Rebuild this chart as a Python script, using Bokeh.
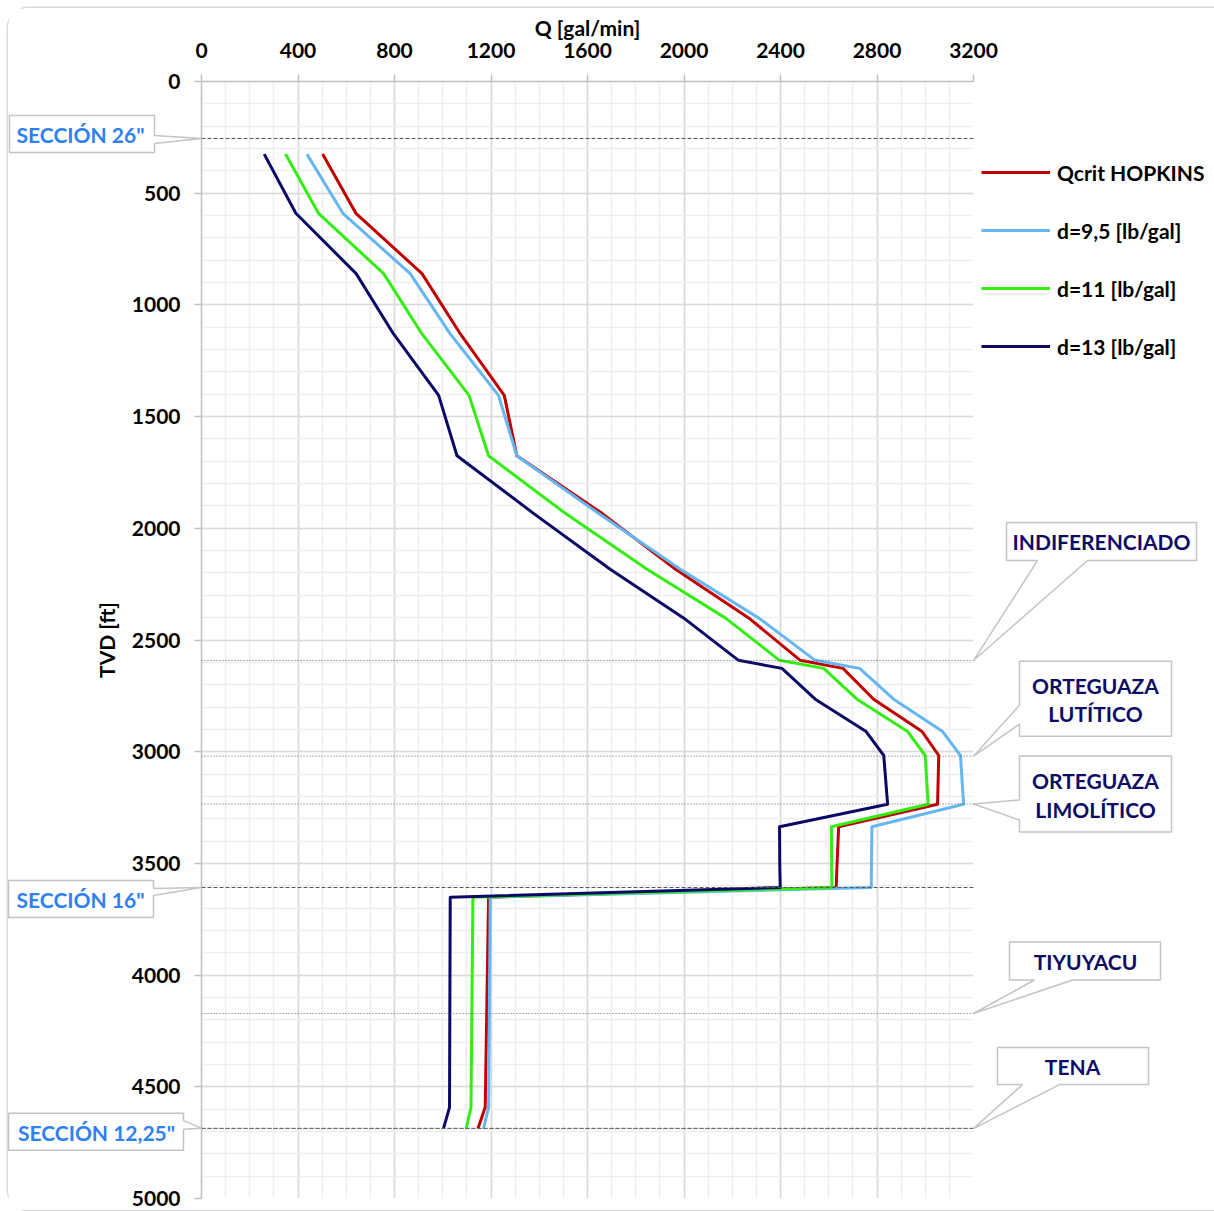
from bokeh.plotting import figure
from bokeh.models import Range1d, FixedTicker, Span, Legend, LegendItem
from bokeh.core.properties import value
from bokeh.embed import file_html
from bokeh.resources import INLINE

# ---------------- data ----------------
depth_ft = [325, 590, 860, 1130, 1405, 1675, 1933, 2183, 2401, 2591, 2627, 2765,
            2910, 3017, 3235, 3336, 3514, 3608, 3651, 4592, 4687]
q_hopkins = [502, 640, 914, 1073, 1255, 1307, 1660, 1965, 2268, 2482, 2659, 2786,
             2987, 3056, 3051, 2641, 2634, 2631, 1190, 1176, 1146]
q_d95 = [437, 586, 865, 1031, 1231, 1307, 1645, 1985, 2309, 2544, 2728, 2869,
         3072, 3146, 3159, 2779, 2777, 2776, 1197, 1190, 1169]
q_d11 = [348, 485, 755, 914, 1109, 1190, 1508, 1847, 2171, 2396, 2579, 2717,
         2927, 3000, 3012, 2611, 2612, 2613, 1125, 1117, 1097]
q_d13 = [260, 391, 641, 796, 983, 1059, 1376, 1694, 1998, 2226, 2406, 2544,
         2755, 2828, 2844, 2396, 2397, 2399, 1031, 1028, 1003]
series_names = ["Qcrit HOPKINS", "d=9,5 [lb/gal]", "d=11 [lb/gal]", "d=13 [lb/gal]"]

section_depths = [255, 3608, 4686]
section_labels = ['SECCIÓN 26"', 'SECCIÓN 16"', 'SECCIÓN 12,25"']
formation_depths = [2592, 3020, 3234, 4172, 4687]
formation_labels = [["INDIFERENCIADO"], ["ORTEGUAZA", "LUTÍTICO"],
                    ["ORTEGUAZA", "LIMOLÍTICO"], ["TIYUYACU"], ["TENA"]]

x_ticks = [0, 400, 800, 1200, 1600, 2000, 2400, 2800, 3200]
y_ticks = [0, 500, 1000, 1500, 2000, 2500, 3000, 3500, 4000, 4500, 5000]

# ---------------- styles ----------------
series_colors = ["#C00000", "#66B6F2", "#33EE11", "#0A0A66"]
FONT = "Lato"
SEC_COLOR = "#2F80F0"
FORM_COLOR = "#0C0C66"

OFF = 8                      # css offset of the figure on the page
W, H = 1204, 1202
FL, FT, FW, FH = 193, 73, 772, 1117
X0, X1, Y0, Y1 = 0, 3200, 0, 5000

p = figure(frame_width=FW, frame_height=FH, min_border_left=FL, min_border_top=FT,
           min_border_right=W - FL - FW, min_border_bottom=H - FT - FH,
           x_range=Range1d(X0, X1), y_range=Range1d(Y1, Y0),
           x_axis_location="above", output_backend="svg", toolbar_location=None,
           background_fill_color="white", border_fill_color="white",
           outline_line_color=None)
p.styles = {"margin": "8px 0 0 8px", "box-shadow": "0 0 0 1.5px #d9d9d9",
            "border-radius": "20px"}

xa = p.xaxis[0]
xa.ticker = FixedTicker(ticks=x_ticks, minor_ticks=list(range(0, 3201, 100)))
ya = p.yaxis[0]
ya.ticker = FixedTicker(ticks=y_ticks, minor_ticks=list(range(0, 5001, 100)))
xa.axis_label = "Q [gal/min]"
ya.axis_label = "TVD [ft]"
for ax in (xa, ya):
    ax.axis_label_text_font = FONT
    ax.axis_label_text_font_style = "bold"
    ax.axis_label_text_font_size = "21px"
    ax.axis_label_text_color = "black"
    ax.major_label_text_font = FONT
    ax.major_label_text_font_style = "bold"
    ax.major_label_text_font_size = "21px"
    ax.major_label_text_color = "black"
    ax.axis_line_color = "#bfbfbf"
    ax.axis_line_width = 1.5
    ax.major_tick_line_color = "#bfbfbf"
    ax.major_tick_line_width = 1.5
    ax.major_tick_out = 7
    ax.major_tick_in = 0
    ax.minor_tick_out = 0
    ax.minor_tick_in = 0
xa.major_label_standoff = 17
xa.axis_label_standoff = 0
ya.major_label_standoff = 14
ya.axis_label_standoff = 10

for g in (p.xgrid[0], p.ygrid[0]):
    g.grid_line_color = "#d9d9d9"
    g.grid_line_width = 1.6
    g.minor_grid_line_color = "#efefef"
    g.minor_grid_line_width = 1.5

# horizontal reference lines
for d in section_depths:
    p.add_layout(Span(location=d, dimension="width", line_color="#555555",
                      line_width=1, line_dash="4 2"))
for d in formation_depths:
    p.add_layout(Span(location=d, dimension="width", line_color="#606060",
                      line_width=1, line_dash="1 2"))

# series
renderers = []
for q, c in zip([q_hopkins, q_d95, q_d11, q_d13], series_colors):
    r = p.line(q, depth_ft, line_color=c, line_width=3, line_join="round")
    renderers.append(r)

# ---------------- callouts (decoration, placed from page pixels) ----------
SX = FW / (X1 - X0)
SY = FH / (Y1 - Y0)
FRAME_LEFT = OFF + FL


def qx(page_x):
    return X0 + (page_x - FRAME_LEFT) / SX


def dy(px):
    return px / SY


def callout(tip_depth, pts, texts, color):
    xs = [qx(x) for x, _ in pts]
    ys = [tip_depth + dy(o) for _, o in pts]
    p.patch(xs, ys, fill_color="white", fill_alpha=1.0, line_color="#c4c4c4",
            line_width=1.5, level="overlay")
    p.text(x=[qx(tx) for tx, _, _ in texts],
           y=[tip_depth + dy(to) for _, to, _ in texts],
           text=[t for _, _, t in texts], text_align="center",
           text_baseline="middle", text_font=value(FONT),
           text_font_style="bold", text_font_size="21px", text_color=color,
           level="overlay")


# section callouts (left)
callout(section_depths[0],
        [(9, -23), (154, -23), (154, -3), (201, 0), (154, 5), (154, 14), (9, 14)],
        [(80, -4, section_labels[0])], SEC_COLOR)
callout(section_depths[1],
        [(8, -7), (153, -7), (153, 1), (201, 0), (153, 8), (153, 30), (8, 30)],
        [(80, 12, section_labels[1])], SEC_COLOR)
callout(section_depths[2],
        [(8, -15), (183, -15), (183, -8), (201, 0), (183, 1), (183, 22), (8, 22)],
        [(96, 4, section_labels[2])], SEC_COLOR)

# formation callouts (right)
callout(formation_depths[0],
        [(1006, -138), (1196, -138), (1196, -100), (1087, -100), (973, 0),
         (1037, -100), (1006, -100)],
        [(1101, -119, formation_labels[0][0])], FORM_COLOR)
callout(formation_depths[1],
        [(1019, -95), (1171, -95), (1171, -20), (1019, -20), (1019, -32),
         (973, 0), (1019, -51)],
        [(1095, -71, formation_labels[1][0]), (1095, -43, formation_labels[1][1])],
        FORM_COLOR)
callout(formation_depths[2],
        [(1019, -48), (1171, -48), (1171, 28), (1019, 28), (1019, 16),
         (973, 0), (1019, -4)],
        [(1095, -23, formation_labels[2][0]), (1095, 6, formation_labels[2][1])],
        FORM_COLOR)
callout(formation_depths[3],
        [(1009, -71.5), (1160, -71.5), (1160, -33.5), (1072, -33.5), (973, 0),
         (1034, -33.5), (1009, -33.5)],
        [(1085, -52, formation_labels[3][0])], FORM_COLOR)
callout(formation_depths[4],
        [(997, -81), (1148, -81), (1148, -44), (1059, -44), (973, 0),
         (1022, -44), (997, -44)],
        [(1072, -62, formation_labels[4][0])], FORM_COLOR)

# legend (right side panel)
items = [LegendItem(label=n, renderers=[r]) for n, r in zip(series_names, renderers)]
leg_top = 159 - OFF - FT          # from frame top, px
leg_h = 4 * 26 + 3 * 32
legend = Legend(items=items, location=(8, FH - leg_top - leg_h), padding=0, margin=0,
                border_line_color=None, background_fill_alpha=0,
                glyph_width=69, glyph_height=26, label_height=26, spacing=32,
                label_standoff=7, label_text_font=FONT,
                label_text_font_style="bold", label_text_font_size="21px",
                label_text_color="black")
p.add_layout(legend, "right")

open("out.html", "w").write(file_html(p, INLINE))
